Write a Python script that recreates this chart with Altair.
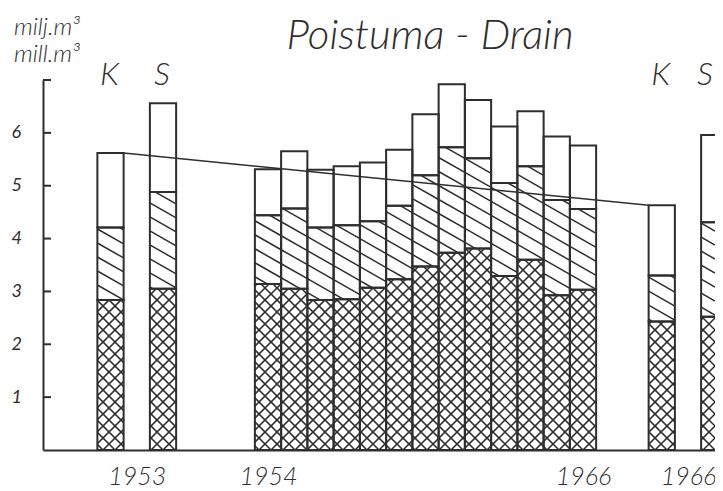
import math
import altair as alt
import pandas as pd

# ---------------- data ----------------
title_text = "Poistuma - Drain"
unit_lines = ["milj.m³", "mill.m³"]
bar_names = ["K 1953", "S 1953", "1954", "1955", "1956", "1957", "1958", "1959",
             "1960", "1961", "1962", "1963", "1964", "1965", "1966", "K 1966", "S 1966"]
total = [5.62, 6.56, 5.31, 5.65, 5.30, 5.37, 5.44, 5.68, 6.35, 6.92, 6.62, 6.12,
         6.41, 5.93, 5.76, 4.63, 5.96]
upper_hatched = [4.21, 4.88, 4.44, 4.57, 4.21, 4.25, 4.33, 4.62, 5.20, 5.73, 5.52,
                 5.05, 5.37, 4.73, 4.56, 3.30, 4.31]
lower_cross = [2.84, 3.05, 3.14, 3.05, 2.84, 2.85, 3.07, 3.23, 3.47, 3.73, 3.81,
               3.29, 3.60, 2.93, 3.03, 2.43, 2.52]
group_letters = ["K", "S", "K", "S"]
group_bars = ["K 1953", "S 1953", "K 1966", "S 1966"]
x_tick_labels = ["1953", "1954", "1966", "1966"]
y_tick_values = [1, 2, 3, 4, 5, 6]

# ---------------- layout (styles / positions) ----------------
W, H = 672, 370
YMAX = 7
SX = 26.25            # px per bar slot
SY = H / YMAX         # px per unit
XMIN = -225 / SX
XMAX = XMIN + W / SX
INK = "#2e2e2e"
FONT = "Lato"

slot = {"K 1953": -6, "S 1953": -4, "K 1966": 15, "S 1966": 17}
for i, nm in enumerate(bar_names[2:15]):
    slot[nm] = i
x_tick_pos = [
    (slot["K 1953"] + slot["S 1953"]) / 2,
    slot["1954"],
    slot["1966"],
    (slot["K 1966"] + slot["S 1966"]) / 2,
]


def hatch(x0, x1, y0, y1, k, step):
    """lines Y = c + k*X (pixel space, Y up) clipped to a rectangle"""
    cs = [yy - k * xx for xx in (x0, x1) for yy in (y0, y1)]
    n0 = math.ceil(min(cs) / step)
    n1 = math.floor(max(cs) / step)
    out = []
    for n in range(n0, n1 + 1):
        c = n * step
        xa, xb = (y0 - c) / k, (y1 - c) / k
        lo, hi = max(x0, min(xa, xb)), min(x1, max(xa, xb))
        if hi - lo > 0.4:
            out.append((lo, c + k * lo, hi, c + k * hi))
    return out


seg_rows, hatch_rows = [], []
for name, t, u, l in zip(bar_names, total, upper_hatched, lower_cross):
    s = slot[name]
    for lo, hi, kind in [(0, l, "cross"), (l, u, "diag"), (u, t, "plain")]:
        seg_rows.append(dict(bar=name, x=s - 0.5, x2=s + 0.5, y=lo, y2=hi, kind=kind))
        px0 = (s - 0.5 - XMIN) * SX
        px1 = min((s + 0.5 - XMIN) * SX, W)
        py0, py1 = lo * SY, hi * SY
        if kind == "cross":
            specs = [(1.0, 12.0), (-1.0, 12.0)]
        elif kind == "diag":
            specs = [(-0.57, 14.0)]
        else:
            specs = []
        for k, step in specs:
            for ax, ay, bx, by in hatch(px0, px1, py0, py1, k, step):
                hatch_rows.append(dict(x=ax / SX + XMIN, y=ay / SY,
                                       x2=bx / SX + XMIN, y2=by / SY))

segs = pd.DataFrame(seg_rows)
hatches = pd.DataFrame(hatch_rows)

iK53 = bar_names.index("K 1953")
iK66 = bar_names.index("K 1966")
trend = pd.DataFrame({
    "x": [slot["K 1953"] + 0.5, slot["K 1966"] - 0.5],
    "y": [total[iK53], total[iK66]],
})
# letters centred over their bars, kept inside the visible plot edge
x_keep = XMAX - 9 / SX
letters = pd.DataFrame({"x": [min(slot[b], x_keep) for b in group_bars],
                        "t": group_letters})
yticks = pd.DataFrame({"y": y_tick_values + [YMAX]})
titles = pd.DataFrame({"t": [title_text]})

label_expr = "''"
for p, lab in reversed(list(zip(x_tick_pos, x_tick_labels))):
    label_expr = f"datum.value == {p} ? '{lab}' : ({label_expr})"

xscale = alt.Scale(domain=[XMIN, XMAX], nice=False, zero=False)
yscale = alt.Scale(domain=[0, YMAX], nice=False, zero=True)
xaxis = alt.Axis(values=x_tick_pos, labelExpr=label_expr, ticks=False, tickSize=0,
                 grid=False, title=None, domainColor=INK, domainWidth=2,
                 labelFont=FONT, labelFontSize=25, labelFontStyle="italic",
                 labelFontWeight=300, labelColor=INK, labelPadding=14,
                 labelOverlap=False, labelFlush=False)
yaxis = alt.Axis(values=y_tick_values, ticks=False, tickSize=0, grid=False, title=None,
                 domainColor=INK, domainWidth=2, labelFont=FONT, labelFontSize=18,
                 labelFontStyle="italic", labelFontWeight=400, labelColor=INK,
                 labelAlign="left", labelPadding=32, labelFlush=False)
X = alt.X("x:Q", scale=xscale, axis=xaxis)
Y = alt.Y("y:Q", scale=yscale, axis=yaxis)

fill_layer = alt.Chart(segs).mark_rect(fill="white", stroke=None, clip=True).encode(
    x=X, x2="x2", y=Y, y2="y2")
hatch_layer = alt.Chart(hatches).mark_rule(color=INK, strokeWidth=1.5, clip=True).encode(
    x=X, x2="x2", y=Y, y2="y2")
outline_layer = alt.Chart(segs).mark_rect(fillOpacity=0, stroke=INK, strokeWidth=2,
                                          clip=True).encode(x=X, x2="x2", y=Y, y2="y2")
trend_layer = alt.Chart(trend).mark_line(color=INK, strokeWidth=1.5).encode(x=X, y=Y)
tick_layer = alt.Chart(yticks).mark_rule(color=INK, strokeWidth=2).encode(
    y=Y, x=alt.value(0), x2=alt.value(8))
letter_layer = alt.Chart(letters).mark_text(
    font=FONT, fontSize=32, fontStyle="italic", fontWeight=300, color=INK,
    baseline="alphabetic", align="center", dx=-1).encode(x=X, y=alt.value(5), text="t:N")
title_layer = alt.Chart(titles).mark_text(
    font=FONT, fontSize=42, fontStyle="italic", fontWeight=300, color=INK,
    baseline="alphabetic", align="center").encode(
    x=alt.value(387), y=alt.value(-31), text="t:N")
unit_layer = alt.Chart(titles).mark_text(
    font=FONT, fontSize=24, fontStyle="italic", fontWeight=300, color=INK,
    baseline="alphabetic", align="left", lineHeight=27).encode(
    x=alt.value(-29), y=alt.value(-45), text=alt.value(unit_lines))

chart = alt.layer(
    fill_layer, hatch_layer, outline_layer, trend_layer, tick_layer,
    letter_layer, title_layer, unit_layer
).properties(
    width=W, height=H,
    autosize=alt.AutoSizeParams(type="none"),
    padding={"left": 35, "top": 72, "right": 0, "bottom": 41},
    background="white",
).configure_view(stroke=None)

chart.save("out.html", embed_options={"renderer": "svg", "actions": False})
